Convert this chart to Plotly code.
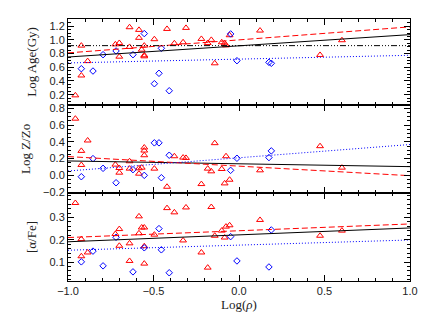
import plotly.graph_objects as go
from plotly.subplots import make_subplots

# x positions (log density) shared by the three panels
x_red = [-0.957, -0.922, -0.922, -0.885, -0.723, -0.70, -0.70, -0.64, -0.64, -0.585, -0.585,
         -0.569, -0.554, -0.554, -0.554, -0.495, -0.421, -0.378, -0.327, -0.31, -0.22,
         -0.183, -0.162, -0.142, -0.101, -0.084, -0.076, -0.055, 0.123, 0.474, 0.602]
x_blue = [-0.922, -0.854, -0.795, -0.719, -0.62, -0.554, -0.495, -0.468, -0.454, -0.408,
          -0.049, -0.012, 0.175, 0.189]

age_red = [0.19, 0.916, 0.48, 0.69, 0.935, 0.955, 0.755, 1.185, 0.897, 1.146, 1.03,
           0.857, 0.916, 0.775, 0.76, 1.01, 1.16, 0.95, 0.965, 1.175, 1.014,
           0.955, 1.0, 0.658, 0.965, 0.95, 0.92, 1.068, 1.136, 0.78, 0.995]
age_blue = [0.579, 0.545, 0.784, 0.838, 0.784, 1.092, 0.36, 0.512, 0.877, 0.257,
            1.087, 0.696, 0.672, 0.658]

z_red = [0.676, 0.292, 0.124, 0.416, 0.128, 0.088, 0.032, 0.168, 0.08, 0.084, 0.02,
         0.092, 0.332, 0.296, 0.24, 0.08, -0.136, 0.228, 0.212, 0.208, -0.104,
         0.08, 0.048, 0.384, 0.076, -0.096, 0.228, -0.052, 0.06, 0.348, 0.092]
z_blue = [-0.016, 0.2, 0.084, -0.088, 0.068, 0.0, 0.388, 0.388, -0.028, 0.24,
          0.06, 0.204, 0.212, 0.292]

alpha_red = [0.365, 0.203, 0.126, 0.143, 0.226, 0.248, 0.173, 0.184, 0.105, 0.305, 0.229,
             0.255, 0.255, 0.171, 0.093, 0.223, 0.342, 0.323, 0.197, 0.345, 0.143,
             0.075, 0.347, 0.218, 0.241, 0.21, 0.259, 0.265, 0.289, 0.218, 0.241]
alpha_blue = [0.101, 0.149, 0.083, 0.211, 0.056, 0.164, None, 0.25, 0.155, 0.052,
              0.214, 0.105, 0.078, 0.244]

# linear fits, evaluated at the ends of the x range
fit_x = [-1.0, 1.0]
age_fit_all = [0.75, 1.077]
age_fit_red = [0.81, 1.19]
age_fit_blue = [0.663, 0.775]
age_mean = [0.916, 0.916]
z_fit_all = [0.172, 0.104]
z_fit_red = [0.224, -0.004]
z_fit_blue = [0.052, 0.368]
alpha_fit_all = [0.191, 0.253]
alpha_fit_red = [0.21, 0.271]
alpha_fit_blue = [0.153, 0.199]

x_ticks = [-1.0, -0.5, 0.0, 0.5, 1.0]
age_ticks = [0.2, 0.4, 0.6, 0.8, 1.0, 1.2]
z_ticks = [-0.2, 0.0, 0.2, 0.4, 0.6, 0.8]
alpha_ticks = [0.1, 0.2, 0.3]

RED = "#ff0000"
BLUE = "#0000ff"
TICKFONT = dict(family="Liberation Sans", size=11, color="#222")
TITLEFONT = dict(family="Liberation Serif", size=13, color="#222")

fig = make_subplots(rows=3, cols=1, shared_xaxes=True, vertical_spacing=0)

panels = [
    (age_red, age_blue, age_fit_all, age_fit_red, age_fit_blue),
    (z_red, z_blue, z_fit_all, z_fit_red, z_fit_blue),
    (alpha_red, alpha_blue, alpha_fit_all, alpha_fit_red, alpha_fit_blue),
]

for i, (yr, yb, fa, fr, fb) in enumerate(panels, start=1):
    fig.add_trace(go.Scatter(x=x_red, y=yr, mode="markers",
                             marker=dict(symbol="triangle-up-open", size=6, color=RED,
                                         line=dict(width=1))), row=i, col=1)
    fig.add_trace(go.Scatter(x=x_blue, y=yb, mode="markers",
                             marker=dict(symbol="diamond-open", size=5, color=BLUE,
                                         line=dict(width=1))), row=i, col=1)
    fig.add_trace(go.Scatter(x=fit_x, y=fa, mode="lines",
                             line=dict(color="black", width=1)), row=i, col=1)
    fig.add_trace(go.Scatter(x=fit_x, y=fr, mode="lines",
                             line=dict(color=RED, width=1, dash="6px,3px")), row=i, col=1)
    fig.add_trace(go.Scatter(x=fit_x, y=fb, mode="lines",
                             line=dict(color=BLUE, width=1, dash="1px,2px")), row=i, col=1)

fig.add_trace(go.Scatter(x=fit_x, y=age_mean, mode="lines",
                         line=dict(color="black", width=1,
                                   dash="6px,2px,1px,2px,1px,2px,1px,2px")), row=1, col=1)

axis_common = dict(showline=True, linecolor="black", linewidth=1, mirror="ticks",
                   ticks="inside", ticklen=6, tickcolor="black", tickwidth=1,
                   showgrid=False, zeroline=False, tickfont=TICKFONT, automargin=False)

for i in (1, 2, 3):
    fig.update_xaxes(range=[-1.0, 1.0], tickvals=x_ticks, tickformat=".1f",
                     minor=dict(dtick=0.1, ticks="inside", ticklen=3, tickcolor="black"),
                     row=i, col=1, **axis_common)

fig.update_xaxes(title=dict(text="Log(<i>ρ</i>)", font=TITLEFONT, standoff=3), row=3, col=1)

fig.update_yaxes(range=[0.05, 1.305], tickvals=age_ticks, tickformat=".1f",
                 minor=dict(dtick=0.05, ticks="inside", ticklen=3, tickcolor="black"),
                 title=dict(text="Log Age(Gy)", font=TITLEFONT, standoff=9),
                 domain=[0.672, 1.0], row=1, col=1, **axis_common)
fig.update_yaxes(range=[-0.21, 0.84], tickvals=z_ticks, tickformat=".1f",
                 minor=dict(dtick=0.05, ticks="inside", ticklen=3, tickcolor="black"),
                 title=dict(text="Log Z/Zo", font=TITLEFONT, standoff=9),
                 domain=[0.336, 0.672], row=2, col=1, **axis_common)
fig.update_yaxes(range=[0.015, 0.41], tickvals=alpha_ticks, tickformat=".1f",
                 minor=dict(dtick=0.02, ticks="inside", ticklen=3, tickcolor="black"),
                 title=dict(text="[α/Fe]", font=TITLEFONT, standoff=9),
                 domain=[0.0, 0.336], row=3, col=1, **axis_common)

fig.update_layout(width=444, height=327, showlegend=False,
                  margin=dict(l=60, r=42, t=11, b=54),
                  paper_bgcolor="white", plot_bgcolor="white")

fig.write_html("out.html")
